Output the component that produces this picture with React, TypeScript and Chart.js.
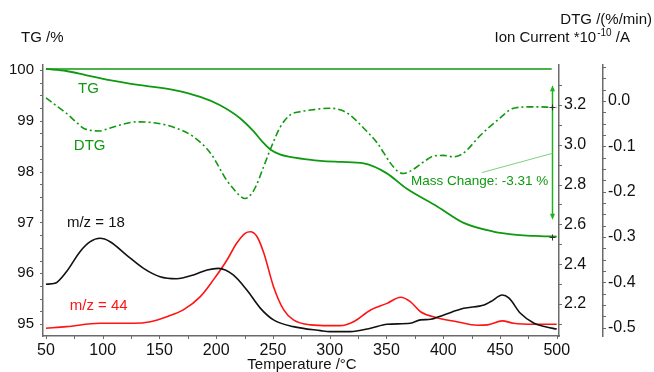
import React, { useEffect, useRef } from 'react';
import { Chart, registerables } from 'chart.js';

Chart.register(...registerables);

const FONT = "'Liberation Sans', Arial, Helvetica, sans-serif";
const GREEN = '#0f990f';
const ARROW_GREEN = '#1fb31f';
const RED = '#ff1414';
const BLACK = '#111111';
const AXIS = '#6b6b6b';

// ---- Data (temperature °C) ----
const tgTemps = [50, 68, 85, 106, 133, 162, 186, 203, 221, 233, 241, 248, 256, 265, 280, 292, 310, 330, 350, 368, 395, 418, 444, 468, 485, 500];
const tgValues = [100.02, 99.98, 99.9, 99.8, 99.7, 99.61, 99.47, 99.31, 99.05, 98.79, 98.58, 98.43, 98.34, 98.29, 98.24, 98.21, 98.19, 98.16, 97.97, 97.66, 97.31, 96.99, 96.82, 96.75, 96.73, 96.72];

const dtgTemps = [50, 60, 68, 76, 83, 90, 97, 106, 118, 130, 148, 165, 180, 195, 209, 215, 220, 225.5, 230, 235, 241, 247.5, 256.5, 265, 275, 283, 300, 310, 318, 330, 342, 353.5, 360, 365, 370, 377, 384, 392, 400, 409, 416, 421, 433, 448, 462, 477, 486, 496, 500];
const dtgValues = [0.007, -0.012, -0.027, -0.045, -0.06, -0.065, -0.066, -0.06, -0.051, -0.046, -0.049, -0.06, -0.079, -0.115, -0.174, -0.193, -0.207, -0.215, -0.208, -0.188, -0.15, -0.108, -0.057, -0.031, -0.023, -0.02, -0.016, -0.02, -0.031, -0.06, -0.093, -0.137, -0.155, -0.16, -0.156, -0.145, -0.132, -0.121, -0.12, -0.123, -0.118, -0.108, -0.075, -0.042, -0.016, -0.013, -0.013, -0.014, -0.014];

const ion18Temps = [50, 58, 68, 80, 89, 97.5, 106.5, 121, 136, 150.5, 165, 180, 192, 202, 215, 227, 239, 250.5, 268, 292, 300, 318, 336, 350.5, 371, 380, 389, 400.5, 418, 436, 442, 452, 458, 468, 480, 490, 500];
const ion18Values = [2.299, 2.304, 2.362, 2.463, 2.513, 2.53, 2.513, 2.446, 2.379, 2.337, 2.327, 2.346, 2.371, 2.379, 2.346, 2.27, 2.178, 2.12, 2.086, 2.066, 2.061, 2.061, 2.078, 2.098, 2.103, 2.12, 2.123, 2.145, 2.178, 2.195, 2.212, 2.245, 2.229, 2.153, 2.103, 2.085, 2.074];

const ion44Temps = [50, 68, 97.5, 127, 142, 156.5, 171, 186, 197.5, 209.5, 218, 225.5, 230, 236, 242, 250.5, 259.5, 268, 283, 300, 309, 321, 336, 350.5, 362.5, 371, 380, 394.5, 412, 430, 439, 452, 462, 480, 500];
const ion44Values = [2.078, 2.086, 2.103, 2.103, 2.111, 2.136, 2.17, 2.237, 2.321, 2.421, 2.505, 2.555, 2.563, 2.538, 2.455, 2.287, 2.17, 2.12, 2.095, 2.091, 2.091, 2.111, 2.17, 2.203, 2.234, 2.212, 2.161, 2.131, 2.111, 2.093, 2.095, 2.115, 2.103, 2.098, 2.098];

// Mass change evaluation
const baselineTemps = [50, 495.6];
const baselineValues = [100.02, 100.02];
const massChangeTemp = 495.6;
const massChangeArrowTop = 99.7;
const massChangeArrowBottom = 97.05;
const massChangeEndTG = 96.72;
const massChangeEndDTG = -0.014;
const massChangeText = 'Mass Change: -3.31 %';

// Tick labels
const xTickValues = [50, 100, 150, 200, 250, 300, 350, 400, 450, 500];
const tgTickValues = [95, 96, 97, 98, 99, 100];
const ionTickValues = [2.2, 2.4, 2.6, 2.8, 3.0, 3.2];
const dtgTickValues = [0.0, -0.1, -0.2, -0.3, -0.4, -0.5];

const toPts = (xs: number[], ys: number[]) => xs.map((x, i) => ({ x, y: ys[i] }));

const seriesLabels = [
  { text: 'TG', t: 87.5, v: 99.63, color: GREEN },
  { text: 'DTG', t: 88.5, v: 98.5, color: GREEN },
  { text: 'm/z = 18', t: 94, v: 97.0, color: BLACK },
  { text: 'm/z = 44', t: 96.5, v: 95.35, color: RED },
];

const fixed = (w: number | null, h: number | null) => (scale: any) => {
  if (w !== null) scale.width = w;
  if (h !== null) scale.height = h;
  scale.paddingLeft = 0;
  scale.paddingRight = 0;
  scale.paddingTop = 0;
  scale.paddingBottom = 0;
};

const setTicks = (vals: number[]) => (scale: any) => {
  scale.ticks = vals.map((v) => ({ value: v }));
};

const range = (a: number, b: number, step: number) => {
  const out: number[] = [];
  const n = Math.round((b - a) / step);
  for (let i = 0; i <= n; i++) out.push(+(a + i * step).toFixed(4));
  return out;
};

const tickPlugin = {
  id: 'tickMarks',
  afterDraw(chart: any) {
    const { ctx, scales } = chart;
    ctx.save();
    ctx.strokeStyle = AXIS;
    ctx.lineWidth = 1;
    const x = scales.x;
    for (const v of range(50, 500, 25)) {
      const px = Math.round(x.getPixelForValue(v)) + 0.5;
      ctx.beginPath();
      ctx.moveTo(px, x.top);
      ctx.lineTo(px, x.top + 3);
      ctx.stroke();
    }
    const yTG = scales.yTG;
    for (const v of range(95, 100, 0.25)) {
      const py = Math.round(yTG.getPixelForValue(v)) + 0.5;
      ctx.beginPath();
      ctx.moveTo(yTG.right - 3, py);
      ctx.lineTo(yTG.right, py);
      ctx.stroke();
    }
    const yIon = scales.yIon;
    for (const v of range(2.1, 3.3, 0.1)) {
      const py = Math.round(yIon.getPixelForValue(v)) + 0.5;
      ctx.beginPath();
      ctx.moveTo(yIon.left, py);
      ctx.lineTo(yIon.left + 3, py);
      ctx.stroke();
    }
    const yDTG = scales.yDTG;
    for (const v of range(-0.5, 0.075, 0.025)) {
      const py = Math.round(yDTG.getPixelForValue(v)) + 0.5;
      ctx.beginPath();
      ctx.moveTo(yDTG.left, py);
      ctx.lineTo(yDTG.left + 3, py);
      ctx.stroke();
    }
    ctx.restore();
  },
};

const annotationPlugin = {
  id: 'annotations',
  afterDatasetsDraw(chart: any) {
    const { ctx, scales } = chart;
    const x = scales.x;
    const yTG = scales.yTG;
    const yDTG = scales.yDTG;
    ctx.save();
    ctx.textBaseline = 'middle';
    ctx.textAlign = 'center';
    ctx.font = `15px ${FONT}`;
    for (const l of seriesLabels) {
      ctx.fillStyle = l.color;
      ctx.fillText(l.text, x.getPixelForValue(l.t), yTG.getPixelForValue(l.v));
    }

    const ax = Math.round(x.getPixelForValue(massChangeTemp)) + 0.5;
    const yTop = yTG.getPixelForValue(massChangeArrowTop);
    const yBot = yTG.getPixelForValue(massChangeArrowBottom);
    ctx.strokeStyle = ARROW_GREEN;
    ctx.fillStyle = ARROW_GREEN;
    ctx.lineWidth = 1.5;
    ctx.beginPath();
    ctx.moveTo(ax, yTop + 4);
    ctx.lineTo(ax, yBot - 4);
    ctx.stroke();
    ctx.beginPath();
    ctx.moveTo(ax, yTop);
    ctx.lineTo(ax - 2.5, yTop + 6);
    ctx.lineTo(ax + 2.5, yTop + 6);
    ctx.closePath();
    ctx.fill();
    ctx.beginPath();
    ctx.moveTo(ax, yBot);
    ctx.lineTo(ax - 2.5, yBot - 6);
    ctx.lineTo(ax + 2.5, yBot - 6);
    ctx.closePath();
    ctx.fill();

    // leader line
    ctx.strokeStyle = '#7fd07f';
    ctx.lineWidth = 1;
    ctx.beginPath();
    ctx.moveTo(x.getPixelForValue(434), yTG.getPixelForValue(97.98));
    ctx.lineTo(ax, yTG.getPixelForValue(98.36));
    ctx.stroke();

    ctx.fillStyle = GREEN;
    ctx.font = `13.5px ${FONT}`;
    ctx.textAlign = 'right';
    ctx.fillText(massChangeText, x.getPixelForValue(492.6), yTG.getPixelForValue(97.8));

    // end markers
    ctx.strokeStyle = '#333';
    ctx.lineWidth = 1;
    const m1 = yTG.getPixelForValue(massChangeEndTG);
    const m2 = yDTG.getPixelForValue(massChangeEndDTG);
    for (const my of [m1, m2]) {
      const py = Math.round(my) + 0.5;
      ctx.beginPath();
      ctx.moveTo(ax - 3, py);
      ctx.lineTo(ax + 3, py);
      ctx.moveTo(ax, py - 3);
      ctx.lineTo(ax, py + 3);
      ctx.stroke();
    }
    ctx.restore();
  },
  afterDraw(chart: any) {
    const { ctx } = chart;
    ctx.save();
    ctx.fillStyle = '#111';
    ctx.textBaseline = 'middle';
    ctx.font = `15px ${FONT}`;
    ctx.textAlign = 'left';
    ctx.fillText('TG /%', 21, 38);
    ctx.textAlign = 'right';
    ctx.fillText('DTG /(%/min)', 652, 20);
    // Ion Current *10^-10 /A, right aligned at 630
    const p1 = 'Ion Current *10';
    const sup = '-10';
    const p3 = ' /A';
    ctx.font = `15px ${FONT}`;
    const w1 = ctx.measureText(p1).width;
    const w3 = ctx.measureText(p3).width;
    ctx.font = `10px ${FONT}`;
    const w2 = ctx.measureText(sup).width;
    const total = w1 + 1 + w2 + w3;
    let cx = 630 - total;
    ctx.textAlign = 'left';
    ctx.font = `15px ${FONT}`;
    ctx.fillText(p1, cx, 38);
    cx += w1 + 1;
    ctx.font = `10px ${FONT}`;
    ctx.fillText(sup, cx, 33);
    cx += w2;
    ctx.font = `15px ${FONT}`;
    ctx.fillText(p3, cx, 38);
    ctx.textAlign = 'center';
    ctx.fillText('Temperature /°C', 302, 365);
    ctx.restore();
  },
};

export default function App() {
  const ref = useRef<HTMLCanvasElement | null>(null);
  useEffect(() => {
    if (!ref.current) return;
    const line = (data: any[], color: string, yAxisID: string, extra: any = {}) => ({
      data,
      borderColor: color,
      backgroundColor: color,
      borderWidth: 1.6,
      pointRadius: 0,
      fill: false,
      cubicInterpolationMode: 'monotone',
      yAxisID,
      ...extra,
    });
    const chart = new Chart(ref.current, {
      type: 'line',
      data: {
        datasets: [
          line(toPts(baselineTemps, baselineValues), GREEN, 'yTG', { borderWidth: 1.4, cubicInterpolationMode: 'default', tension: 0 }),
          line(toPts(tgTemps, tgValues), GREEN, 'yTG', { borderWidth: 1.8 }),
          line(toPts(dtgTemps, dtgValues), GREEN, 'yDTG', { borderDash: [7, 3, 2, 3], borderWidth: 1.6 }),
          line(toPts(ion18Temps, ion18Values), BLACK, 'yIon'),
          line(toPts(ion44Temps, ion44Values), RED, 'yIon'),
        ],
      } as any,
      options: {
        animation: false,
        responsive: false,
        maintainAspectRatio: false,
        events: [],
        layout: { padding: { top: 65, left: 0, right: 0, bottom: 0 }, autoPadding: false } as any,
        plugins: { legend: { display: false }, tooltip: { enabled: false } },
        scales: {
          x: {
            type: 'linear',
            position: 'bottom',
            min: 47.4,
            max: 502,
            afterFit: fixed(null, 36),
            afterBuildTicks: setTicks(xTickValues),
            grid: { display: false, drawTicks: false },
            border: { display: true, color: AXIS, width: 1.5 },
            ticks: { font: { family: FONT, size: 16 }, color: '#111', padding: 5, maxRotation: 0, autoSkip: false },
          },
          yTG: {
            type: 'linear',
            position: 'left',
            min: 94.764,
            max: 100.098,
            afterFit: fixed(43, null),
            afterBuildTicks: setTicks(tgTickValues),
            grid: { display: false, drawTicks: false },
            border: { display: true, color: AXIS, width: 1.5 },
            ticks: { font: { family: FONT, size: 15 }, color: '#111', padding: 9, autoSkip: false, callback: (v: any) => String(v) },
          },
          yIon: {
            type: 'linear',
            position: 'right',
            weight: 0,
            min: 2.039,
            max: 3.401,
            afterFit: fixed(44, null),
            afterBuildTicks: setTicks(ionTickValues),
            grid: { display: false, drawTicks: false },
            border: { display: true, color: AXIS, width: 1.5 },
            ticks: { font: { family: FONT, size: 16 }, color: '#111', padding: 5, autoSkip: false, callback: (v: any) => Number(v).toFixed(1) },
          },
          yDTG: {
            type: 'linear',
            position: 'right',
            weight: 1,
            min: -0.5182,
            max: 0.0794,
            afterFit: fixed(51, null),
            afterBuildTicks: setTicks(dtgTickValues),
            grid: { display: false, drawTicks: false },
            border: { display: true, color: AXIS, width: 1.5 },
            ticks: { font: { family: FONT, size: 16 }, color: '#111', padding: 5, autoSkip: false, callback: (v: any) => Number(v).toFixed(1) },
          },
        } as any,
      },
      plugins: [tickPlugin, annotationPlugin],
    });
    return () => chart.destroy();
  }, []);
  return (
    <div style={{ position: 'fixed', left: 0, top: 0, width: 654, height: 372, background: '#fff' }}>
      <canvas ref={ref} width={654} height={372} style={{ display: 'block' }} />
    </div>
  );
}
